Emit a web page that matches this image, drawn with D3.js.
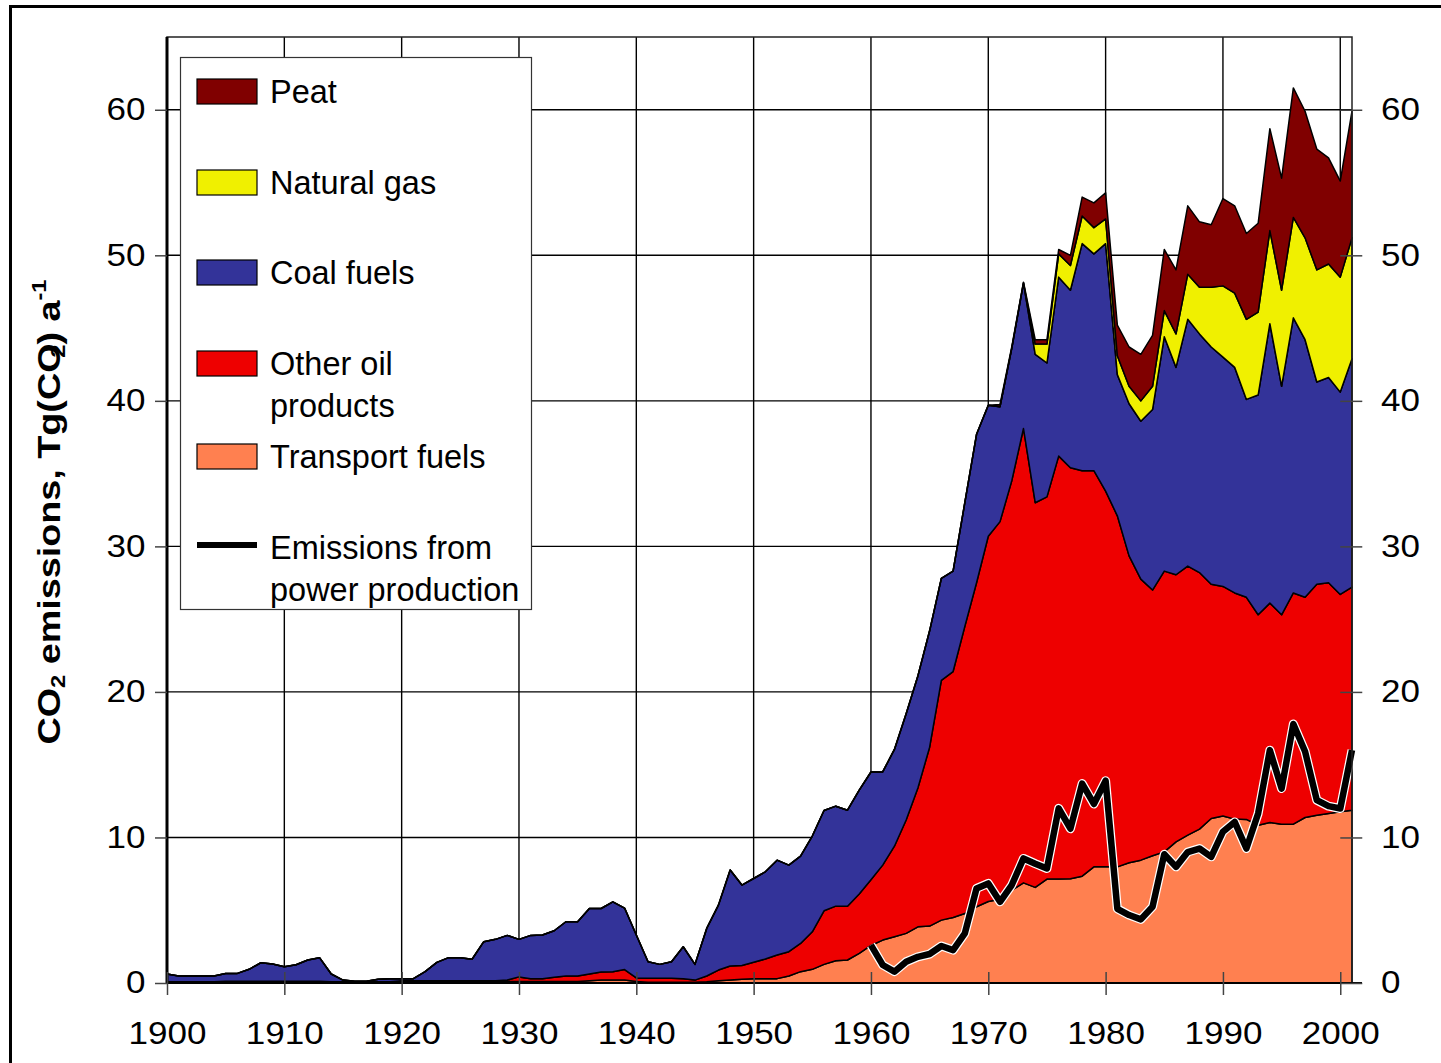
<!DOCTYPE html>
<html>
<head>
<meta charset="utf-8">
<script src="https://cdn.jsdelivr.net/npm/d3@7"></script>
<style>
  body { margin: 0; background: #fff; }
  text { font-family: "Liberation Sans", Arial, sans-serif; fill: #000; }
</style>
</head>
<body>
<div id="container"></div>
<script>
// yearly values 1900-2001, Tg(CO2) per year
var firstYear = 1900;
var lastYear = 2001;

var transport = [
    0.05, 0.05, 0.05, 0.05, 0.05, 0.05, 0.05, 0.05, 0.05, 0.05,
    0.05, 0.05, 0.05, 0.05, 0.05, 0.05, 0.05, 0.05, 0.05, 0.05,
    0.1, 0.1, 0.1, 0.1, 0.1, 0.1, 0.1, 0.1, 0.1, 0.1,
    0.1, 0.1, 0.1, 0.1, 0.1, 0.1, 0.15, 0.2, 0.2, 0.2,
    0.1, 0.05, 0.05, 0.05, 0.05, 0.05, 0.09, 0.15, 0.2, 0.25,
    0.3, 0.3, 0.3, 0.48, 0.78, 0.94, 1.28, 1.53, 1.58, 2.04,
    2.58, 2.95, 3.18, 3.41, 3.86, 3.91, 4.32, 4.5, 4.78, 5.24,
    5.6, 5.75, 6.38, 6.88, 6.57, 7.14, 7.15, 7.17, 7.34, 7.98,
    7.98, 7.98, 8.26, 8.44, 8.74, 9.01, 9.7, 10.16, 10.57, 11.3,
    11.48, 11.26, 11.24, 10.84, 11.03, 10.91, 10.91, 11.37, 11.53, 11.65,
    11.76, 11.87
];
var otherOil = [
    0.03, 0.03, 0.03, 0.03, 0.03, 0.07, 0.07, 0.07, 0.07, 0.07,
    0.07, 0.07, 0.07, 0.07, 0.03, 0.03, 0.03, 0.03, 0.03, 0.03,
    0.05, 0.05, 0.05, 0.05, 0.05, 0.05, 0.05, 0.05, 0.05, 0.1,
    0.32, 0.2, 0.2, 0.3, 0.38, 0.38, 0.47, 0.55, 0.58, 0.72,
    0.25, 0.27, 0.27, 0.27, 0.25, 0.15, 0.39, 0.74, 0.97, 0.95,
    1.12, 1.35, 1.62, 1.67, 1.94, 2.58, 3.68, 3.75, 3.7, 4.08,
    4.52, 5.15, 6.22, 7.79, 9.54, 12.29, 16.48, 16.9, 19.72, 22.26,
    25.1, 25.95, 28.12, 31.22, 26.43, 26.26, 29.05, 28.23, 27.86, 27.22,
    25.82, 24.12, 21.09, 19.31, 18.26, 19.29, 18.35, 18.49, 17.63, 16.1,
    15.77, 15.54, 15.26, 14.46, 15.07, 14.39, 15.89, 15.13, 15.87, 15.85,
    14.94, 15.33
];
var coal = [
    0.54, 0.4, 0.4, 0.4, 0.4, 0.54, 0.54, 0.82, 1.27, 1.18,
    1.0, 1.13, 1.46, 1.62, 0.54, 0.12, 0.04, 0.04, 0.17, 0.22,
    0.15, 0.15, 0.63, 1.27, 1.59, 1.59, 1.48, 2.69, 2.85, 3.07,
    2.58, 2.97, 3.0, 3.19, 3.73, 3.73, 4.5, 4.37, 4.8, 4.23,
    2.95, 1.14, 0.96, 1.14, 2.19, 1.08, 3.27, 4.46, 6.59, 5.53,
    5.76, 5.99, 6.52, 5.95, 6.0, 6.58, 6.89, 6.87, 6.59, 7.13,
    7.4, 6.4, 6.65, 7.3, 7.7, 8.0, 7.0, 6.9, 8.5, 10.2,
    9.0, 7.9, 9.1, 10.0, 10.2, 9.2, 12.3, 12.2, 15.6, 14.9,
    17.0, 9.7, 10.45, 10.85, 12.4, 16.1, 14.25, 16.95, 16.4, 16.3,
    15.75, 15.5, 13.6, 15.1, 19.2, 15.7, 18.9, 17.7, 13.9, 14.1,
    13.9, 15.7
];
// natural gas starts in 1974, peat in 1971
var gasStart = 1974;
var naturalGas = [
    0.7, 1.3, 1.6, 1.7, 1.9, 1.8, 1.7, 1.3, 1.2, 1.4,
    1.6, 1.8, 2.3, 3.1, 3.2, 4.1, 4.9, 5.1, 5.5, 5.7,
    6.4, 6.6, 6.9, 7.0, 7.7, 7.8, 7.9, 8.3
];
var peatStart = 1971;
var peat = [
    0.15, 0.1, 0.05,
    0.3, 0.3, 0.3, 0.7, 1.3, 1.7, 1.8, 2.1, 2.7, 3.2, 3.5,
    4.2, 4.4, 4.7, 4.5, 4.3, 6.0, 6.0, 5.9, 6.1, 7.0,
    7.7, 8.9, 8.7, 8.3, 7.3, 6.6, 8.7
];
// emissions from power production, 1960-2001
var powerStart = 1960;
var power = [
    2.6, 1.24, 0.78, 1.46, 1.8, 1.99, 2.54, 2.26, 3.41, 6.5,
    6.84, 5.58, 6.73, 8.56, 8.2, 7.87, 12.0, 10.6, 13.7, 12.3,
    13.9, 5.1, 4.67, 4.37, 5.24, 8.85, 7.98, 9.0, 9.24, 8.67,
    10.4, 11.07, 9.24, 11.65, 16.0, 13.36, 17.8, 15.9, 12.56, 12.15,
    11.99, 16.0
];

var yTicks = [0, 10, 20, 30, 40, 50, 60];
var xTicks = [1900, 1910, 1920, 1930, 1940, 1950, 1960, 1970, 1980, 1990, 2000];

var keys = ["transport", "oil", "coal", "gas", "peat"];
var colors = {
    transport: "#ff8050",
    oil: "#ee0000",
    coal: "#333399",
    gas: "#f0f000",
    peat: "#800000"
};

// table for d3.stack
var table = [];
for (var yr = firstYear; yr <= lastYear; yr++) {
    var i = yr - firstYear;
    table.push({
        year: yr,
        transport: transport[i],
        oil: otherOil[i],
        coal: coal[i],
        gas: yr >= gasStart ? naturalGas[yr - gasStart] : 0,
        peat: yr >= peatStart ? peat[yr - peatStart] : 0
    });
}
var powerData = power.map(function (v, i) {
    return { year: powerStart + i, value: v };
});

var width = 1441;
var height = 1063;
var plot = { left: 167, right: 1352, top: 37, bottom: 983 };

var svg = d3.select("#container")
    .append("svg")
    .attr("width", width)
    .attr("height", height);

var x = d3.scaleLinear().domain([firstYear, lastYear]).range([plot.left, plot.right]);
var y = d3.scaleLinear().domain([0, 65]).range([plot.bottom, plot.top]);

// outer frame
svg.append("rect")
    .attr("x", 10.5)
    .attr("y", 6.5)
    .attr("width", 1450)
    .attr("height", 1090)
    .attr("fill", "none")
    .attr("stroke", "#000")
    .attr("stroke-width", 3);

// gridlines
svg.append("g")
    .selectAll("line")
    .data(xTicks.slice(1))
    .enter()
    .append("line")
    .attr("x1", function (d) { return x(d); })
    .attr("x2", function (d) { return x(d); })
    .attr("y1", plot.top)
    .attr("y2", plot.bottom)
    .attr("stroke", "#000")
    .attr("stroke-width", 1.4);

svg.append("g")
    .selectAll("line")
    .data(yTicks.slice(1))
    .enter()
    .append("line")
    .attr("x1", plot.left)
    .attr("x2", plot.right)
    .attr("y1", function (d) { return y(d); })
    .attr("y2", function (d) { return y(d); })
    .attr("stroke", "#000")
    .attr("stroke-width", 1.4);

// stacked areas
var series = d3.stack().keys(keys)(table);
var area = d3.area()
    .x(function (d) { return x(d.data.year); })
    .y0(function (d) { return y(d[0]); })
    .y1(function (d) { return y(d[1]); });

svg.append("g")
    .selectAll("path")
    .data(series)
    .enter()
    .append("path")
    .attr("d", area)
    .attr("fill", function (d) { return colors[d.key]; })
    .attr("stroke", "#000")
    .attr("stroke-width", 1.5)
    .attr("stroke-linejoin", "round");

// power production line, white halo under black
var line = d3.line()
    .x(function (d) { return x(d.year); })
    .y(function (d) { return y(d.value); });

svg.append("path")
    .datum(powerData)
    .attr("d", line)
    .attr("fill", "none")
    .attr("stroke", "#fff")
    .attr("stroke-width", 9)
    .attr("stroke-linejoin", "round");
svg.append("path")
    .datum(powerData)
    .attr("d", line)
    .attr("fill", "none")
    .attr("stroke", "#000")
    .attr("stroke-width", 6.5)
    .attr("stroke-linejoin", "round");

// plot border
svg.append("rect")
    .attr("x", plot.left)
    .attr("y", plot.top)
    .attr("width", plot.right - plot.left)
    .attr("height", plot.bottom - plot.top)
    .attr("fill", "none")
    .attr("stroke", "#222")
    .attr("stroke-width", 1.5);
svg.append("line")
    .attr("x1", plot.left).attr("x2", plot.left)
    .attr("y1", plot.top).attr("y2", plot.bottom)
    .attr("stroke", "#000")
    .attr("stroke-width", 3);
svg.append("line")
    .attr("x1", plot.left).attr("x2", plot.right + 10)
    .attr("y1", plot.bottom).attr("y2", plot.bottom)
    .attr("stroke", "#000")
    .attr("stroke-width", 2);

// axes
var leftAxis = svg.append("g")
    .attr("transform", "translate(" + plot.left + ",0)")
    .call(d3.axisLeft(y).tickValues(yTicks).tickSize(12).tickPadding(16));

var rightAxis = svg.append("g")
    .attr("transform", "translate(" + x(2000) + ",0)")
    .call(d3.axisRight(y).tickValues(yTicks).tickSize(22).tickPadding(19));

var bottomAxis = svg.append("g")
    .attr("transform", "translate(0," + (plot.bottom - 11) + ")")
    .call(d3.axisBottom(x).tickValues(xTicks).tickFormat(d3.format("d")).tickSize(23).tickPadding(27));

[leftAxis, rightAxis, bottomAxis].forEach(function (ax) {
    ax.select(".domain").remove();
    ax.selectAll(".tick line").attr("stroke", "#444").attr("stroke-width", 1.5);
    ax.selectAll(".tick text")
        .attr("font-size", 31)
        .attr("font-family", "Liberation Sans, Arial, sans-serif")
        .attr("fill", "#000");
});
bottomAxis.selectAll(".tick text").attr("transform", "scale(1.13,1)");
leftAxis.selectAll(".tick text").attr("x", -19).attr("transform", "scale(1.13,1)");
rightAxis.selectAll(".tick text").attr("transform", "scale(1.13,1)").attr("x", 36);

// y axis title
var title = svg.append("text")
    .attr("transform", "translate(60,512) rotate(-90)")
    .attr("text-anchor", "middle")
    .attr("font-size", 32)
    .attr("font-weight", "bold")
    .attr("textLength", 465)
    .attr("lengthAdjust", "spacingAndGlyphs");
title.append("tspan").text("CO");
title.append("tspan").attr("font-size", 20).attr("dy", 5).text("2");
title.append("tspan").attr("dy", -5).text(" emissions, Tg(CO");
title.append("tspan").attr("font-size", 20).attr("dy", 5).attr("dx", -12).text("2");
title.append("tspan").attr("dy", -5).text(") a");
title.append("tspan").attr("font-size", 20).attr("dy", -14).text("-1");

// legend
svg.append("rect")
    .attr("x", 180.5)
    .attr("y", 57.5)
    .attr("width", 351)
    .attr("height", 552)
    .attr("fill", "#fff")
    .attr("stroke", "#333")
    .attr("stroke-width", 1.2);

var legendItems = [
    { key: "peat", lines: ["Peat"], y: 92 },
    { key: "gas", lines: ["Natural gas"], y: 183 },
    { key: "coal", lines: ["Coal fuels"], y: 273 },
    { key: "oil", lines: ["Other oil", "products"], y: 364 },
    { key: "transport", lines: ["Transport fuels"], y: 457 },
    { key: "power", lines: ["Emissions from", "power production"], y: 548 }
];

var legend = svg.selectAll(".legend")
    .data(legendItems)
    .enter()
    .append("g")
    .attr("class", "legend")
    .attr("transform", function (d) { return "translate(0," + d.y + ")"; });

legend.filter(function (d) { return d.key !== "power"; })
    .append("rect")
    .attr("x", 197)
    .attr("y", -13)
    .attr("width", 60)
    .attr("height", 25)
    .attr("fill", function (d) { return colors[d.key]; })
    .attr("stroke", "#000")
    .attr("stroke-width", 1.2);

legend.filter(function (d) { return d.key === "power"; })
    .append("line")
    .attr("x1", 197)
    .attr("x2", 257)
    .attr("y1", -3)
    .attr("y2", -3)
    .attr("stroke", "#000")
    .attr("stroke-width", 6);

legend.each(function (d) {
    var g = d3.select(this);
    d.lines.forEach(function (t, k) {
        g.append("text")
            .attr("x", 270)
            .attr("y", 11 + k * 42)
            .attr("font-size", 32.5)
            .text(t);
    });
});
</script>
</body>
</html>
